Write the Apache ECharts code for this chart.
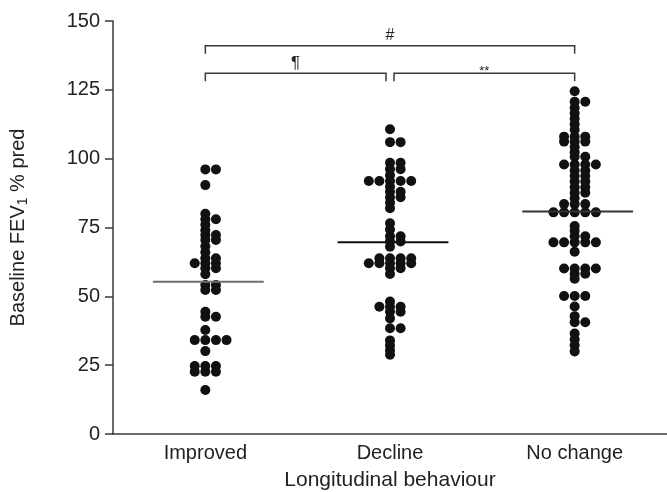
<!DOCTYPE html>
<html><head><meta charset="utf-8">
<script src="https://cdn.jsdelivr.net/npm/echarts@6/dist/echarts.min.js"></script>
<style>html,body{margin:0;padding:0;background:#fff}#c{width:667px;height:492px}</style>
</head><body><div id="c"></div>
<script>
// ---------- data ----------
const categories = ['Improved', 'Decline', 'No change'];
const improved = [96.1, 96.1, 90.4, 80, 78, 78, 76, 74, 72.3, 72.3, 70.5, 70.5, 68.2, 66,
  63.8, 63.8, 62, 62, 62, 60.2, 60.2, 58, 54.1, 54.1, 52.3, 52.3, 44.4, 42.6, 42.6, 37.8,
  34.1, 34.1, 34.1, 34.1, 30.1, 24.7, 24.7, 24.7, 22.6, 22.6, 22.6, 16];
const decline = [110.7, 106, 106, 98.5, 98.5, 96.2, 96.2, 94, 91.9, 91.9, 91.9, 91.9, 91.9,
  89.8, 88, 88, 86, 86, 84, 82, 76.5, 74.3, 71.8, 71.8, 69.9, 69.9, 68,
  63.8, 63.8, 63.8, 63.8, 62, 62, 62, 62, 62, 60.2, 60.2, 58.1,
  48.1, 46.2, 46.2, 46.2, 44.4, 44.4, 42, 38.4, 38.4, 34, 32.2, 30.4, 28.8];
const noChange = [124.5, 120.7, 120.7, 118.5, 116.5, 114.5, 112.5, 110.5, 108, 108, 108,
  106.2, 106.2, 106.2, 104.2, 102.3, 100.7, 100.7, 97.9, 97.9, 97.9, 97.9, 95.7, 95.7,
  93.7, 93.7, 91.7, 91.7, 89.6, 89.6, 87.6, 87.6, 85.6, 83.5, 83.5, 83.5,
  80.5, 80.5, 80.5, 80.5, 80.5, 75.5, 73.8, 71.8, 71.8, 69.6, 69.6, 69.6, 69.6, 69.6, 66.2,
  60.1, 60.1, 60.1, 60.1, 58.2, 58.2, 56.4, 50.1, 50.1, 50.1, 46.3, 42.8, 40.6, 40.6,
  36.5, 34.3, 32.2, 30];
const medians = [55.3, 69.6, 80.8];
const yTickMin = 0, yTickMax = 150, yTickStep = 25;
// significance comparisons
const cmpFrom = [0, 0, 1];
const cmpTo = [2, 1, 2];
const cmpLevel = [141, 131, 131];
const cmpLabel = ['#', '\u00B6', '**'];

// ---------- layout helpers ----------
const SLOT_ORDER = [0, 1, -1, 2, -2, 3, -3];
const DOT_STEP = 10.6;
function swarm(values, ci) {
  const counts = {};
  return values.map(v => {
    const k = v.toFixed(2);
    const n = counts[k] || 0;
    counts[k] = n + 1;
    return { value: [ci, v], symbolOffset: [SLOT_ORDER[n] * DOT_STEP, 0] };
  });
}
const dots = [].concat(swarm(improved, 0), swarm(decline, 1), swarm(noChange, 2));
const medianColors = ['#6e6e6e', '#111111', '#333333'];
const labelSizes = { '#': 16, '\u00B6': 17, '**': 13 };
const FONT = '"Liberation Sans", Arial, Helvetica, sans-serif';

const chart = echarts.init(document.getElementById('c'), null, { renderer: 'canvas' });
chart.setOption({
  animation: false,
  backgroundColor: '#ffffff',
  grid: { left: 113, right: 0, top: 21, bottom: 58, containLabel: false, outerBoundsMode: 'none' },
  xAxis: {
    type: 'category', data: categories, boundaryGap: true,
    axisLine: { lineStyle: { color: '#3a3a3a', width: 1.5 } },
    axisTick: { alignWithLabel: true, length: 6, lineStyle: { color: '#3a3a3a', width: 1.5 } },
    axisLabel: { color: '#222', fontSize: 20, fontFamily: FONT, margin: 9 },
    name: 'Longitudinal behaviour', nameLocation: 'middle', nameGap: 36,
    nameTextStyle: { color: '#222', fontSize: 21, fontFamily: FONT }
  },
  yAxis: {
    type: 'value', min: yTickMin, max: yTickMax, interval: yTickStep,
    splitLine: { show: false },
    axisLine: { show: true, lineStyle: { color: '#3a3a3a', width: 1.5 } },
    axisTick: { show: true, length: 8, lineStyle: { color: '#3a3a3a', width: 1.5 } },
    axisLabel: { color: '#222', fontSize: 20, fontFamily: FONT, margin: 13 },
    name: 'Baseline FEV{s|1} % pred', nameLocation: 'middle', nameGap: 83, nameRotate: 90,
    nameTextStyle: {
      color: '#222', fontSize: 20, fontFamily: FONT, lineHeight: 24,
      rich: { s: { fontSize: 14, fontFamily: FONT, color: '#222', verticalAlign: 'bottom', lineHeight: 14 } }
    }
  },
  series: [
    {
      type: 'scatter', data: dots, symbol: 'circle', symbolSize: 10,
      itemStyle: { color: '#111111', opacity: 1 }, z: 3
    },
    {
      type: 'custom', z: 4,
      encode: { x: 0, y: 1 },
      data: medians.map((m, i) => [i, m]),
      renderItem: (params, api) => {
        const c = api.coord([api.value(0), api.value(1)]);
        const half = api.size([1, 0])[0] * 0.3;
        const cx = c[0] + 3;
        return {
          type: 'line',
          shape: { x1: cx - half, y1: c[1], x2: cx + half, y2: c[1] },
          style: { stroke: medianColors[params.dataIndex], lineWidth: 2 }
        };
      }
    },
    {
      type: 'custom', z: 5, clip: false,
      encode: { x: 0, y: 2 },
      data: cmpFrom.map((f, i) => [f, cmpTo[i], cmpLevel[i], i]),
      renderItem: (params, api) => {
        const i = params.dataIndex;
        const f = cmpFrom[i], t = cmpTo[i], lv = cmpLevel[i];
        const p1 = api.coord([f, lv]);
        const p2 = api.coord([t, lv]);
        const GAP = 4, DROP = 8;
        let x1 = p1[0], x2 = p2[0];
        for (let j = 0; j < cmpFrom.length; j++) {
          if (j === i || cmpLevel[j] !== lv) continue;
          if (cmpTo[j] === f) x1 += GAP;
          if (cmpFrom[j] === t) x2 -= GAP;
        }
        const y = p1[1];
        const lab = cmpLabel[i];
        const isStar = lab === '**';
        return {
          type: 'group',
          children: [
            {
              type: 'polyline',
              shape: { points: [[x1, y + DROP], [x1, y], [x2, y], [x2, y + DROP]] },
              style: { stroke: '#3a3a3a', lineWidth: 1.5, fill: null }
            },
            {
              type: 'text',
              style: {
                x: (x1 + x2) / 2, y: isStar ? y - 2 : y - 2,
                text: lab, fill: '#222', font: labelSizes[lab] + 'px ' + FONT,
                align: 'center', verticalAlign: isStar ? 'middle' : 'bottom'
              }
            }
          ]
        };
      }
    }
  ]
});
</script>
</body></html>
